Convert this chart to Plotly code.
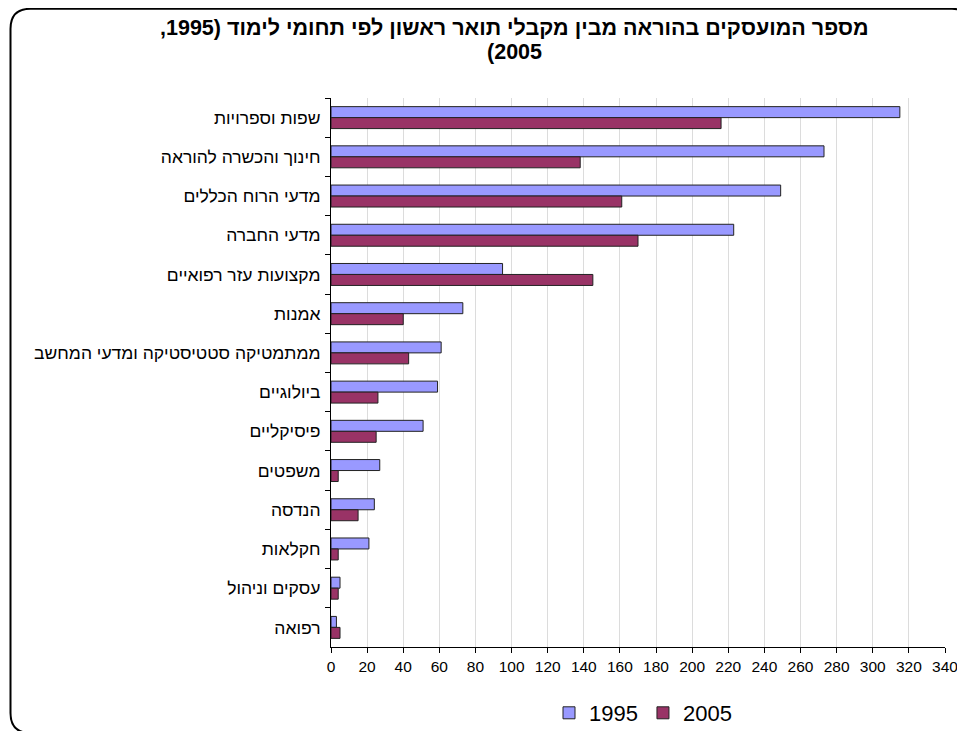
import plotly.graph_objects as go

categories = [
    "שפות וספרויות",
    "חינוך והכשרה להוראה",
    "מדעי הרוח הכללים",
    "מדעי החברה",
    "מקצועות עזר רפואיים",
    "אמנות",
    "ממתמטיקה סטטיסטיקה ומדעי המחשב",
    "ביולוגיים",
    "פיסיקליים",
    "משפטים",
    "הנדסה",
    "חקלאות",
    "עסקים וניהול",
    "רפואה",
]
values_1995 = [315, 273, 249, 223, 95, 73, 61, 59, 51, 27, 24, 21, 5, 3]
values_2005 = [216, 138, 161, 170, 145, 40, 43, 26, 25, 4, 15, 4, 4, 5]
x_ticks = list(range(0, 341, 20))
RLE, PDF = "\u202b", "\u202c"
title_lines = ["מספר המועסקים בהוראה מבין מקבלי תואר ראשון לפי תחומי לימוד (1995,", "2005)"]

# figure is offset by the page body's 8px margin
OFF = 8
W, H = 965 - OFF, 731 - OFF
PLOT_X0, PLOT_X1, PLOT_Y0, PLOT_Y1 = 331, 945, 98, 647  # screen pixels
L = PLOT_X0 - OFF
R = W - (PLOT_X1 - OFF)
T = PLOT_Y0 - OFF
B = H - (PLOT_Y1 - OFF)
PW, PH = W - L - R, H - T - B

def px(x):  # screen pixel -> paper x
    return (x - OFF - L) / PW

def py(y):  # screen pixel -> paper y
    return (H - B - (y - OFF)) / PH

FONT = "Liberation Sans, Arial, sans-serif"

fig = go.Figure()
fig.add_trace(go.Bar(
    y=categories, x=values_1995, name="1995", orientation="h",
    marker=dict(color="#9999FF", line=dict(color="#222222", width=1)),
))
fig.add_trace(go.Bar(
    y=categories, x=values_2005, name="2005", orientation="h",
    marker=dict(color="#993366", line=dict(color="#222222", width=1)),
))

# rounded border (screen pixel coords)
x0, x1, y0, y1, r = 10.5, 972, 8.8, 733, 20
path = (
    f"M {px(x0 + r)} {py(y0)} L {px(x1 - r)} {py(y0)} "
    f"Q {px(x1)} {py(y0)} {px(x1)} {py(y0 + r)} "
    f"L {px(x1)} {py(y1 - r)} Q {px(x1)} {py(y1)} {px(x1 - r)} {py(y1)} "
    f"L {px(x0 + r)} {py(y1)} Q {px(x0)} {py(y1)} {px(x0)} {py(y1 - r)} "
    f"L {px(x0)} {py(y0 + r)} Q {px(x0)} {py(y0)} {px(x0 + r)} {py(y0)} Z"
)

title_annots = [
    dict(text=RLE + s + PDF, xref="paper", yref="paper", x=px(514), y=py(yc),
         xanchor="center", yanchor="middle", showarrow=False,
         font=dict(family=FONT, size=21.5, color="black", weight="bold"))
    for s, yc in zip(title_lines, [28, 52])
]

fig.update_layout(
    width=W, height=H,
    margin=dict(l=L, r=R, t=T, b=B, autoexpand=False),
    paper_bgcolor="white", plot_bgcolor="white",
    font=dict(family=FONT, color="black"),
    barmode="group", bargap=0.44, bargroupgap=0,
    showlegend=True,
    legend=dict(
        orientation="h", x=px(643), xanchor="center",
        y=py(713), yanchor="middle", bgcolor="rgba(0,0,0,0)",
        font=dict(size=22, family=FONT), traceorder="normal",
    ),
    annotations=title_annots,
    shapes=[dict(type="path", xref="paper", yref="paper", path=path,
                 line=dict(color="black", width=2), fillcolor="rgba(0,0,0,0)",
                 layer="above")],
)
fig.update_xaxes(
    range=[0, 340], tickvals=x_ticks, ticktext=[str(v) for v in x_ticks],
    showgrid=True, gridcolor="#dcdcdc", gridwidth=1,
    showline=True, linecolor="black", linewidth=1,
    ticks="outside", ticklen=5, tickcolor="black",
    tickfont=dict(size=15.5, family=FONT), zeroline=False,
)
fig.update_yaxes(
    autorange="reversed", showgrid=False,
    showline=True, linecolor="black", linewidth=1,
    ticks="outside", ticklen=5, tickcolor="black", tickson="boundaries",
    ticklabelstandoff=6,
    tickfont=dict(size=17.5, family=FONT),
)

fig.write_html("out.html")
